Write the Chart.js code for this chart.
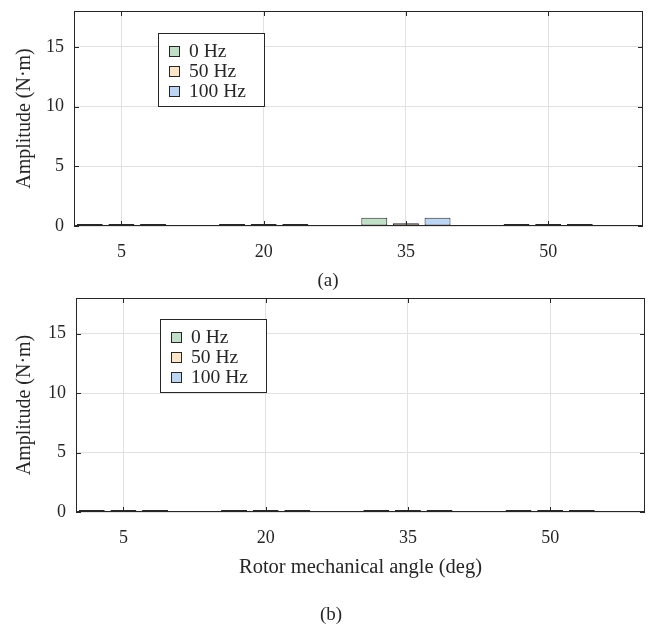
<!DOCTYPE html>
<html>
<head>
<meta charset="utf-8">
<script src="https://cdn.jsdelivr.net/npm/chart.js@4.4.1/dist/chart.umd.min.js"></script>
<style>
  body { margin: 0; background: #fff; }
  .wrap { position: absolute; left: 0; width: 652px; }
  .cap { position: absolute; font: 19px "Liberation Serif", serif; color: #262626; transform: translate(-50%, -50%); }
</style>
</head>
<body>
<div class="wrap" style="top:0;height:270px"><canvas id="chartA" width="652" height="270"></canvas></div>
<div class="wrap" style="top:270px;height:354px"><canvas id="chartB" width="652" height="354"></canvas></div>
<div class="cap" style="left:328px;top:280px">(a)</div>
<div class="cap" style="left:331px;top:614px">(b)</div>
<script>
const angles = [5, 20, 35, 50];
const xTicks = [5, 20, 35, 50];
const yTicks = [0, 5, 10, 15];
const freqLabels = ['0 Hz', '50 Hz', '100 Hz'];

// (a) amplitudes, N·m
const a0Hz   = [0.05, 0.03, 0.70, 0.05];
const a50Hz  = [0.08, 0.03, 0.22, 0.07];
const a100Hz = [0.05, 0.03, 0.70, 0.05];

// (b) amplitudes, N·m
const b0Hz   = [0.02, 0.02, 0.02, 0.02];
const b50Hz  = [0.10, 0.04, 0.17, 0.12];
const b100Hz = [0.02, 0.02, 0.02, 0.02];

const fillColors = ['#c0dfc6', '#fde5c7', '#bcd5f3'];
const ink = '#262626';
const gridColor = '#e1e1e1';
const serif = '"Liberation Serif", "Times New Roman", serif';

const framePlugin = {
    id: 'frame',
    afterDatasetsDraw(chart) {
        const {ctx, chartArea: a, scales: {x, y}} = chart;
        ctx.save();
        ctx.strokeStyle = ink;
        ctx.lineWidth = 1;
        ctx.strokeRect(a.left + 0.5, a.top + 0.5, a.right - a.left - 1, a.bottom - a.top - 1);
        ctx.beginPath();
        x.ticks.forEach(t => {
            const px = Math.round(x.getPixelForValue(t.value)) + 0.5;
            ctx.moveTo(px, a.bottom); ctx.lineTo(px, a.bottom - 5);
            ctx.moveTo(px, a.top); ctx.lineTo(px, a.top + 5);
        });
        y.ticks.forEach(t => {
            const py = Math.round(y.getPixelForValue(t.value)) + 0.5;
            ctx.moveTo(a.left, py); ctx.lineTo(a.left + 5, py);
            ctx.moveTo(a.right, py); ctx.lineTo(a.right - 5, py);
        });
        ctx.stroke();
        ctx.restore();
    }
};

const boxLegend = {
    id: 'boxLegend',
    afterDraw(chart, args, o) {
        const {ctx, chartArea: a} = chart;
        const bx = Math.round(a.left + o.dx), by = Math.round(a.top + o.dy);
        ctx.save();
        ctx.fillStyle = '#fff';
        ctx.fillRect(bx, by, o.w, o.h);
        ctx.strokeStyle = ink;
        ctx.lineWidth = 1;
        ctx.strokeRect(bx + 0.5, by + 0.5, o.w, o.h);
        ctx.font = '19.5px ' + serif;
        ctx.textBaseline = 'middle';
        chart.data.datasets.forEach((ds, i) => {
            const cy = Math.round(by + 18 + i * 20);
            ctx.fillStyle = ds.backgroundColor;
            ctx.fillRect(bx + 11, cy - 5, 10, 10);
            ctx.strokeStyle = ink;
            ctx.strokeRect(bx + 11.5, cy - 4.5, 10, 10);
            ctx.fillStyle = ink;
            ctx.fillText(ds.label, bx + 31, cy + 1);
        });
        ctx.restore();
    }
};

function makeChart(id, series, cfg) {
    const ctx = document.getElementById(id).getContext('2d');
    return new Chart(ctx, {
        type: 'bar',
        data: {
            datasets: series.map((vals, i) => ({
                label: freqLabels[i],
                data: angles.map((ang, j) => ({x: ang, y: vals[j]})),
                backgroundColor: fillColors[i],
                borderColor: ink,
                borderWidth: 1,
                borderSkipped: false,
                minBarLength: 2,
                categoryPercentage: 0.667,
                barPercentage: 0.82
            }))
        },
        options: {
            responsive: false,
            animation: false,
            devicePixelRatio: 1,
            layout: { padding: { top: cfg.top, right: cfg.right, left: 0, bottom: 0 } },
            plugins: {
                legend: { display: false },
                tooltip: { enabled: false },
                boxLegend: { dx: 84, dy: cfg.legendDy, w: 106, h: 73 }
            },
            scales: {
                x: {
                    type: 'linear',
                    min: 0,
                    max: 60,
                    offset: false,
                    afterBuildTicks: s => { s.ticks = xTicks.map(v => ({value: v})); },
                    afterFit: s => { s.height = cfg.xHeight; s.paddingLeft = 0; s.paddingRight = 0; },
                    grid: { color: gridColor, offset: false, drawTicks: false },
                    border: { display: false },
                    ticks: { color: ink, font: { family: serif, size: 18 }, padding: 15, maxRotation: 0, autoSkip: false },
                    title: {
                        display: !!cfg.xTitle,
                        text: cfg.xTitle || '',
                        color: ink,
                        font: { family: serif, size: 20.5 },
                        padding: { top: 0, bottom: cfg.xTitlePad || 0 }
                    }
                },
                y: {
                    min: 0,
                    max: 18,
                    afterBuildTicks: s => { s.ticks = yTicks.map(v => ({value: v})); },
                    afterFit: s => { s.width = cfg.yWidth; s.paddingTop = 0; s.paddingBottom = 0; },
                    grid: { color: gridColor, drawTicks: false },
                    border: { display: false },
                    ticks: { color: ink, font: { family: serif, size: 18 }, padding: 10 },
                    title: {
                        display: true,
                        text: 'Amplitude (N·m)',
                        color: ink,
                        font: { family: serif, size: 20 },
                        padding: { top: 13, bottom: 0 }
                    }
                }
            }
        },
        plugins: [framePlugin, boxLegend]
    });
}

makeChart('chartA', [a0Hz, a50Hz, a100Hz], { top: 11, right: 9, yWidth: 74, xHeight: 44, legendDy: 22 });
makeChart('chartB', [b0Hz, b50Hz, b100Hz], { top: 28, right: 7, yWidth: 76, xHeight: 112, legendDy: 21,
    xTitle: 'Rotor mechanical angle (deg)', xTitlePad: 44 });
</script>
</body>
</html>
